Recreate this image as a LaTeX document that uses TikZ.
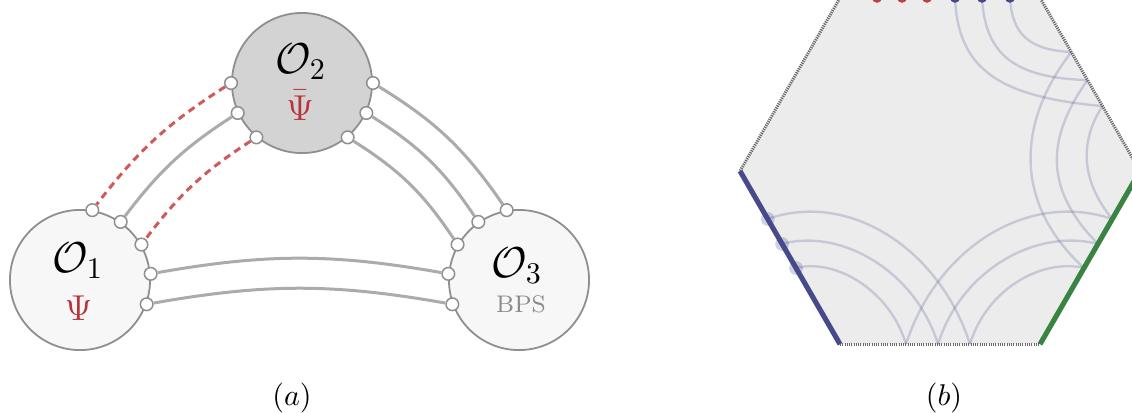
\documentclass[tikz,border=0pt]{standalone}
\usepackage{amsmath}
\usepackage{amssymb}
\usepackage{tikz}
\usetikzlibrary{calc}

\definecolor{rimgray}{HTML}{8F8F8F}
\definecolor{linkgray}{HTML}{ABABAB}
\definecolor{lightfill}{HTML}{F7F7F7}
\definecolor{darkfill}{HTML}{D3D3D3}
\definecolor{opred}{HTML}{B8343C}
\definecolor{dashred}{HTML}{D05A5A}
\definecolor{bpsgray}{HTML}{8A8A8A}
\definecolor{hexfill}{HTML}{ECECEC}
\definecolor{seamgray}{HTML}{6A6A6A}
\definecolor{edgeblue}{HTML}{474A8A}
\definecolor{edgegreen}{HTML}{3A8443}
\definecolor{dotred}{HTML}{C0403F}

\tikzset{
	blob/.style={circle,draw=rimgray,line width=0.6pt,minimum size=46.7pt,inner sep=0pt},
	port/.style={circle,draw=rimgray,fill=white,line width=0.5pt,minimum size=4.2pt,inner sep=0pt},
	tag/.style={anchor=base,inner sep=0pt},
	leg/.style={draw=linkgray,line width=1pt},
	ghostleg/.style={draw=dashred,line width=1pt,dash pattern=on 2.4pt off 1.7pt},
	seam/.style={draw=seamgray,line width=1pt,dash pattern=on 0.4pt off 0.35pt},
	strand/.style={draw=edgeblue,draw opacity=0.22,line width=0.8pt},
}

\begin{document}
\begin{tikzpicture}[x=0.3333pt,y=0.3333pt]
	\useasboundingbox (0,0) rectangle (1132,412);

	\node[blob,fill=lightfill] (o1) at (80,132) {};
	\node[blob,fill=darkfill] (o2) at (302,329) {};
	\node[blob,fill=lightfill] (o3) at (519,132) {};

	\node[tag,font=\Large] (o1name) at (78,140) {$\mathcal{O}_1$};
	\node[tag,font=\large,text=opred] (o1field) at (78.5,92) {$\Psi$};
	\node[tag,font=\Large] (o2name) at (301,339) {$\mathcal{O}_2$};
	\node[tag,font=\large,text=opred] (o2field) at (300,292) {$\bar{\Psi}$};
	\node[tag,font=\Large] (o3name) at (517,135) {$\mathcal{O}_3$};
	\node[tag,font=\footnotesize,text=bpsgray] (o3tag) at (521,100) {BPS};

	\foreach \a [count=\k] in {80,55,30,5,-20}{
		\node[port] (o1p\k) at (o1.\a) {};
	}
	\foreach \a [count=\k] in {180,205,230,0,-25,-50}{
		\node[port] (o2p\k) at (o2.\a) {};
	}
	\foreach \a [count=\k] in {100,125,150,175,200}{
		\node[port] (o3p\k) at (o3.\a) {};
	}

	\draw[ghostleg] (o2p1) to[bend right=10] (o1p1);
	\draw[leg] (o2p2) to[bend right=10] (o1p2);
	\draw[ghostleg] (o2p3) to[bend right=10] (o1p3);
	\foreach \i/\j in {4/1,5/2,6/3}{
		\draw[leg] (o2p\i) to[bend left=12] (o3p\j);
	}
	\foreach \i in {4,5}{
		\draw[leg] (o1p\i) to[bend left=10] (o3p\i);
	}

	\node[tag] (capa) at (292,7) {$(a)$};
	\node[tag] (capb) at (944,7) {$(b)$};

	\begin{scope}
		\clip (0,0) rectangle (1132,412);
		\foreach \k in {0,...,5}{
			\coordinate (h\k) at ({940+200*cos(60*\k)},{241+200*sin(60*\k)});
		}
		\fill[hexfill] (h0) -- (h1) -- (h2) -- (h3) -- (h4) -- (h5) -- cycle;
		\draw[seam] (h0) -- (h1) -- (h2) -- (h3);
		\draw[seam] (h4) -- (h5);

		% end points of the strands on the rim
		\foreach \f [count=\k] in {0.625,0.475,0.313}{
			\coordinate (e\k) at ($(h1)!\f!(h0)$);
		}
		\foreach \f [count=\k] in {0.277,0.421,0.56}{
			\coordinate (g\k) at ($(h0)!\f!(h5)$);
			\coordinate (l\k) at ($(h3)!\f!(h4)$);
		}
		\foreach \f [count=\k] in {0.33,0.49,0.65}{
			\coordinate (b\k) at ($(h4)!\f!(h5)$);
		}
		\foreach \x [count=\k] in {955,982,1010}{
			\coordinate (t\k) at (\x,414.2);
		}

		\draw[strand] (t1) .. controls (958,342) and (1000,315) .. (e1);
		\draw[strand] (t2) .. controls (985,357) and (1015,334) .. (e2);
		\draw[strand] (t3) .. controls (1012,377) and (1030,362) .. (e3);
		\draw[strand] (e3) .. controls (1015,287) and (1015,207) .. (g3);
		\draw[strand] (e2) .. controls (1045,272) and (1045,222) .. (g2);
		\draw[strand] (e1) .. controls (1080,272) and (1080,232) .. (g1);
		\draw[strand] (g1) .. controls (1026,222) and (936,162) .. (b1);
		\draw[strand] (g2) .. controls (1036,184) and (961,142) .. (b2);
		\draw[strand] (g3) .. controls (1041,154) and (986,122) .. (b3);
		\draw[strand] (l1) .. controls (850,222) and (940,162) .. (b3);
		\draw[strand] (l2) .. controls (840,184) and (915,142) .. (b2);
		\draw[strand] (l3) .. controls (835,154) and (890,122) .. (b1);

		\foreach \k in {1,2,3}{
			\fill[edgeblue,opacity=0.25] (l\k) circle (2.3pt);
		}
		\draw[edgeblue,line width=1.7pt] (h3) -- (h4);
		\draw[edgegreen,line width=1.7pt] (h5) -- (h0);

		\foreach \x in {877,902,927}{
			\fill[dotred] (\x,414.2) circle (1.67pt);
		}
		\foreach \k in {1,2,3}{
			\fill[edgeblue] (t\k) circle (1.67pt);
		}
	\end{scope}
\end{tikzpicture}
\end{document}
